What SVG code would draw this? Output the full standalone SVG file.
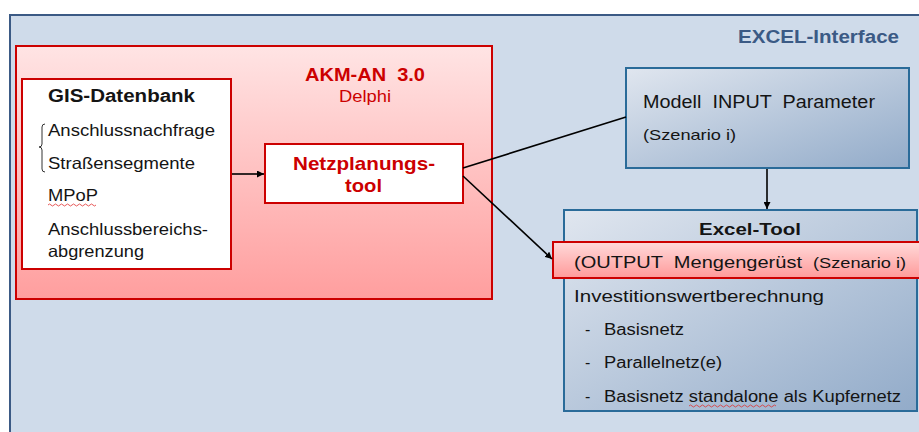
<svg xmlns="http://www.w3.org/2000/svg" width="919" height="432" viewBox="0 0 919 432">
<defs>
<linearGradient id="gRed" x1="0" y1="0" x2="0" y2="1"><stop offset="0" stop-color="#ffe4e4"/><stop offset="1" stop-color="#ff9e9e"/></linearGradient>
<linearGradient id="gOut" x1="0" y1="0" x2="0" y2="1"><stop offset="0" stop-color="#ffdada"/><stop offset="1" stop-color="#ff9a9a"/></linearGradient>
<linearGradient id="gBlue" x1="0" y1="0" x2="1" y2="1"><stop offset="0" stop-color="#e0e6ef"/><stop offset="1" stop-color="#92abc9"/></linearGradient>
<marker id="arr" viewBox="0 0 10 10" refX="10" refY="5" markerWidth="7" markerHeight="7" orient="auto" markerUnits="userSpaceOnUse"><path d="M0,0 L10,5 L0,10 z" fill="#000"/></marker>
<style>
text{font-family:"Liberation Sans",Arial,sans-serif;fill:#141414;white-space:pre}
.b{font-weight:bold}
.red{fill:#cc0000}
.rb{stroke:#cc0000;stroke-width:2}
.bb{stroke:#2a6b99;stroke-width:2}
.c{stroke:#000;stroke-width:1.6;fill:none}
.sq{stroke:#e03030;stroke-width:0.8;fill:none}
</style>
</defs>
<rect x="0" y="0" width="919" height="432" fill="#ffffff"/>
<g id="excel-interface">
<rect x="10" y="15" width="915" height="425" fill="#cfdbea" stroke="#3b5a85" stroke-width="2"/>
<text x="738" y="43" class="b" font-size="18" style="fill:#3b5a85" textLength="161" lengthAdjust="spacingAndGlyphs">EXCEL-Interface</text>
</g>
<g id="akm">
<rect x="16" y="46" width="476" height="253" fill="url(#gRed)" class="rb"/>
<text x="305" y="81" class="b red" font-size="18" textLength="120" lengthAdjust="spacingAndGlyphs">AKM-AN  3.0</text>
<text x="339" y="102" class="red" font-size="16" textLength="52" lengthAdjust="spacingAndGlyphs">Delphi</text>
</g>
<g id="gis">
<rect x="22" y="79" width="209" height="190" fill="#ffffff" class="rb"/>
<text x="48" y="102" class="b" font-size="18" textLength="147" lengthAdjust="spacingAndGlyphs">GIS-Datenbank</text>
<text x="48" y="136" font-size="16.5" textLength="167" lengthAdjust="spacingAndGlyphs">Anschlussnachfrage</text>
<text x="48" y="169" font-size="16.5" textLength="147" lengthAdjust="spacingAndGlyphs">Straßensegmente</text>
<text x="48" y="201" font-size="16.5" textLength="50" lengthAdjust="spacingAndGlyphs">MPoP</text>
<path class="sq" d="M48,205 q1.5,-2 3,0 t3,0 t3,0 t3,0 t3,0 t3,0 t3,0 t3,0 t3,0 t3,0 t3,0 t3,0 t3,0 t3,0 t3,0 t3,0"/>
<text x="48" y="235" font-size="16.5" textLength="160" lengthAdjust="spacingAndGlyphs">Anschlussbereichs-</text>
<text x="48" y="257" font-size="16.5" textLength="96" lengthAdjust="spacingAndGlyphs">abgrenzung</text>
<path d="M45,124 Q42,124 42,127 L42,144 Q42,147 39,147 Q42,147 42,150 L42,169 Q42,172 45,172" fill="none" stroke="#333" stroke-width="1"/>
</g>
<g id="netz">
<rect x="265" y="144" width="198" height="59" fill="#ffffff" class="rb"/>
<text x="293" y="170" class="b red" font-size="19" textLength="142" lengthAdjust="spacingAndGlyphs">Netzplanungs-</text>
<text x="345" y="192" class="b red" font-size="19" textLength="37" lengthAdjust="spacingAndGlyphs">tool</text>
</g>
<g id="modell">
<rect x="626" y="68" width="283" height="100" fill="url(#gBlue)" class="bb"/>
<text x="643" y="108" font-size="17.5" textLength="232" lengthAdjust="spacingAndGlyphs">Modell  INPUT  Parameter</text>
<text x="643" y="140" font-size="15" textLength="93" lengthAdjust="spacingAndGlyphs">(Szenario i)</text>
</g>
<g id="excel-tool">
<rect x="564" y="210" width="353" height="201" fill="url(#gBlue)" class="bb"/>
<text x="699" y="235" class="b" font-size="17" textLength="102" lengthAdjust="spacingAndGlyphs">Excel-Tool</text>
<text x="574" y="302" font-size="17" textLength="250" lengthAdjust="spacingAndGlyphs">Investitionswertberechnung</text>
<text x="585" y="335" font-size="16">-</text>
<text x="604" y="335" font-size="16" textLength="80" lengthAdjust="spacingAndGlyphs">Basisnetz</text>
<text x="585" y="368" font-size="16">-</text>
<text x="604" y="368" font-size="16" textLength="118" lengthAdjust="spacingAndGlyphs">Parallelnetz(e)</text>
<text x="585" y="402" font-size="16">-</text>
<text x="604" y="402" font-size="16" textLength="297" lengthAdjust="spacingAndGlyphs">Basisnetz standalone als Kupfernetz</text>
<path class="sq" d="M689,406 q1.5,-2 3,0 t3,0 t3,0 t3,0 t3,0 t3,0 t3,0 t3,0 t3,0 t3,0 t3,0 t3,0 t3,0 t3,0 t3,0 t3,0 t3,0 t3,0 t3,0 t3,0 t3,0 t3,0 t3,0 t3,0 t3,0 t3,0 t3,0 t3,0 t3,0"/>
</g>
<g id="output">
<rect x="553" y="242" width="372" height="36" fill="url(#gOut)" class="rb"/>
<text x="574" y="268" font-size="17" textLength="228" lengthAdjust="spacingAndGlyphs">(OUTPUT  Mengengerüst</text>
<text x="813" y="268" font-size="15" textLength="93" lengthAdjust="spacingAndGlyphs">(Szenario i)</text>
</g>
<g id="connectors">
<line class="c" x1="232" y1="174" x2="264" y2="174" marker-end="url(#arr)"/>
<line class="c" x1="463" y1="168" x2="626" y2="117"/>
<line class="c" x1="463" y1="176" x2="552" y2="259" marker-end="url(#arr)"/>
<line class="c" x1="767" y1="169" x2="767" y2="209" marker-end="url(#arr)"/>
</g>
</svg>
